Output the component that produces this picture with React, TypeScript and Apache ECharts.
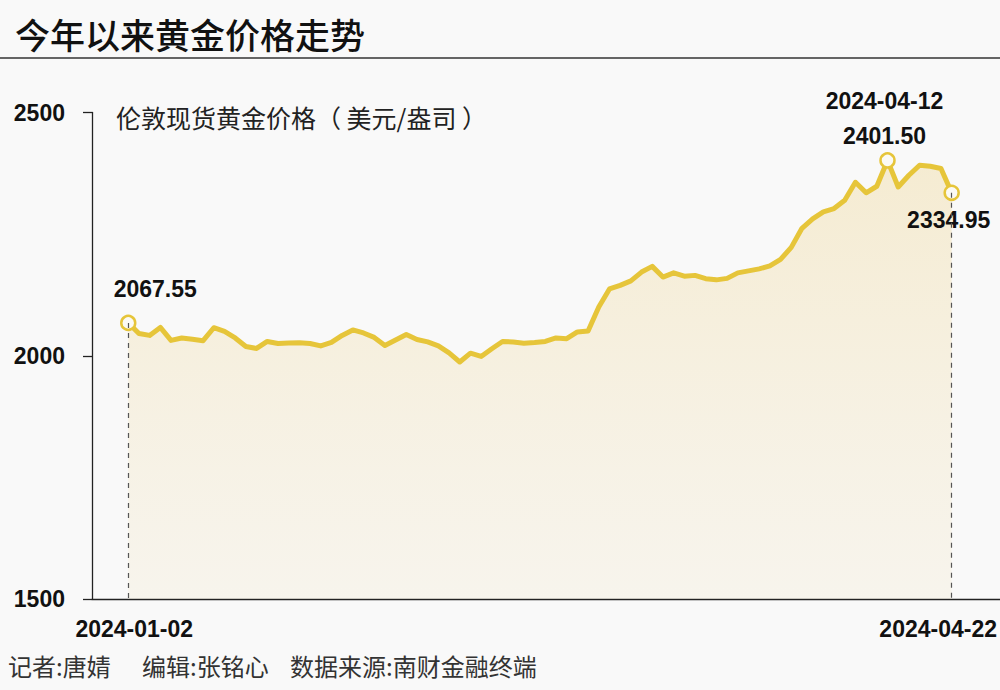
import React, { useEffect, useRef } from "react";
import * as echarts from "echarts";

// ---- data ----
const dates: string[] = [
  "2024-01-02", "2024-01-03", "2024-01-04", "2024-01-05",
  "2024-01-08", "2024-01-09", "2024-01-10", "2024-01-11", "2024-01-12",
  "2024-01-15", "2024-01-16", "2024-01-17", "2024-01-18", "2024-01-19",
  "2024-01-22", "2024-01-23", "2024-01-24", "2024-01-25", "2024-01-26",
  "2024-01-29", "2024-01-30", "2024-01-31",
  "2024-02-01", "2024-02-02",
  "2024-02-05", "2024-02-06", "2024-02-07", "2024-02-08", "2024-02-09",
  "2024-02-12", "2024-02-13", "2024-02-14", "2024-02-15", "2024-02-16",
  "2024-02-19", "2024-02-20", "2024-02-21", "2024-02-22", "2024-02-23",
  "2024-02-26", "2024-02-27", "2024-02-28", "2024-02-29",
  "2024-03-01",
  "2024-03-04", "2024-03-05", "2024-03-06", "2024-03-07", "2024-03-08",
  "2024-03-11", "2024-03-12", "2024-03-13", "2024-03-14", "2024-03-15",
  "2024-03-18", "2024-03-19", "2024-03-20", "2024-03-21", "2024-03-22",
  "2024-03-25", "2024-03-26", "2024-03-27", "2024-03-28",
  "2024-04-02", "2024-04-03", "2024-04-04", "2024-04-05",
  "2024-04-08", "2024-04-09", "2024-04-10", "2024-04-11", "2024-04-12",
  "2024-04-15", "2024-04-16", "2024-04-17", "2024-04-18", "2024-04-19",
  "2024-04-22",
];

const prices: number[] = [
  2067.55, 2045.9, 2041.8, 2058.2,
  2031.5, 2036.6, 2034.0, 2031.0, 2057.6,
  2050.0, 2036.6, 2019.1, 2015.0, 2029.4,
  2025.3, 2026.3, 2026.7, 2025.3, 2020.2,
  2027.4, 2041.8, 2053.1,
  2046.9, 2037.7,
  2021.2, 2032.5, 2043.8, 2033.5, 2028.4,
  2020.2, 2005.8, 1987.2, 2005.3, 1998.6,
  2014.4, 2029.4, 2028.4, 2025.9, 2027.4,
  2029.4, 2036.6, 2035.0, 2049.0,
  2051.0,
  2100.4, 2137.4, 2144.7, 2153.9, 2172.0,
  2183.7, 2161.7, 2170.4, 2163.6, 2165.2,
  2158.4, 2156.0, 2159.0, 2170.4, 2174.5,
  2178.6, 2184.8, 2198.1, 2222.8,
  2261.9, 2281.5, 2295.9, 2302.5,
  2319.5, 2356.6, 2335.0, 2348.4, 2401.5,
  2346.9, 2371.0, 2391.6, 2389.5, 2384.8,
  2334.95,
];

const highlightIdx: number[] = [0, 71, 77];
const xLabelIdx: number[] = [0, 77];
const yTicks: number[] = [1500, 2000, 2500];

const titleText = "今年以来黄金价格走势";
const subtitleText = "伦敦现货黄金价格（ 美元/盎司 ）";
const footerParts: string[] = ["记者:唐婧", "编辑:张铭心", "数据来源:南财金融终端"];

const NUM_FONT = "'Liberation Sans', Arial, sans-serif";
const CJK_FONT = "'Noto Sans CJK SC', 'Noto Sans', sans-serif";
const GOLD = "#E6C53A";

export default function App() {
  const ref = useRef<HTMLDivElement>(null);

  useEffect(() => {
    if (!ref.current) return;
    const chart = echarts.init(ref.current, null, { renderer: "svg" });

    const labelOffsets: Record<number, { offset: number[]; text: string }> = {
      0: { offset: [27, -34], text: prices[0].toFixed(2) },
      71: { offset: [-3, -42], text: `${dates[71]}\n${prices[71].toFixed(2)}` },
      77: { offset: [-3, 27], text: prices[77].toFixed(2) },
    };

    const option: any = {
      animation: false,
      backgroundColor: "#f9f9f9",
      grid: { left: 92, right: 0, top: 112.5, bottom: 91, containLabel: false },
      xAxis: {
        type: "value",
        min: -3.39,
        max: 81.52,
        axisLine: { show: true, onZero: false, lineStyle: { color: "#222", width: 1.3 } },
        axisTick: { show: false },
        splitLine: { show: false },
        axisLabel: {
          customValues: xLabelIdx,
          margin: 18,
          formatter: (v: number) => {
            const i = Math.round(v);
            return i === 0 ? `{l|${dates[i]}}` : `{r|${dates[i]}}`;
          },
          rich: {
            l: { fontFamily: NUM_FONT, fontSize: 23, fontWeight: "bold", color: "#111", padding: [0, 0, 0, 12] },
            r: { fontFamily: NUM_FONT, fontSize: 23, fontWeight: "bold", color: "#111", padding: [0, 27, 0, 0] },
          },
        },
      },
      yAxis: {
        type: "value",
        min: yTicks[0],
        max: yTicks[yTicks.length - 1],
        interval: yTicks[1] - yTicks[0],
        axisLine: { show: true, onZero: false, lineStyle: { color: "#222", width: 1.3 } },
        axisTick: { show: true, length: 9, lineStyle: { color: "#222", width: 1.3 } },
        splitLine: { show: false },
        axisLabel: {
          margin: 27,
          fontFamily: NUM_FONT,
          fontSize: 23,
          fontWeight: "bold",
          color: "#111",
          formatter: (v: number) => String(v),
        },
      },
      series: [
        {
          type: "line",
          data: prices.map((v, i) => [i, v]),
          symbol: "none",
          z: 2,
          lineStyle: { color: GOLD, width: 5, join: "round", cap: "round" },
          areaStyle: {
            color: new echarts.graphic.LinearGradient(0, 0, 0, 1, [
              { offset: 0, color: "rgba(236, 203, 115, 0.42)" },
              { offset: 1, color: "rgba(236, 215, 160, 0.2)" },
            ]),
          },
          markLine: {
            silent: true,
            symbol: ["none", "none"],
            label: { show: false },
            lineStyle: { type: [5, 5], color: "#555", width: 1.2 },
            data: xLabelIdx.map((i) => [
              { coord: [i, prices[i]] },
              { coord: [i, yTicks[0]] },
            ]),
          },
        },
        {
          type: "scatter",
          z: 3,
          symbol: "circle",
          symbolSize: 14,
          itemStyle: { color: "#fbfaf4", borderColor: GOLD, borderWidth: 2.5, opacity: 1 },
          data: highlightIdx.map((i) => ({
            value: [i, prices[i]],
            label: {
              show: true,
              position: "inside",
              offset: labelOffsets[i].offset,
              formatter: labelOffsets[i].text,
              fontFamily: NUM_FONT,
              fontSize: 23,
              fontWeight: "bold",
              color: "#111",
              lineHeight: 35,
              align: "center",
              verticalAlign: "middle",
            },
          })),
        },
      ],
      graphic: [
        {
          type: "text",
          x: 15,
          y: 33,
          style: {
            text: titleText,
            fontFamily: CJK_FONT,
            fontSize: 35,
            fontWeight: 500,
            fill: "#111",
            align: "left",
            verticalAlign: "middle",
          },
        },
        {
          type: "line",
          shape: { x1: 0, y1: 58, x2: 1000, y2: 58 },
          style: { stroke: "#333", lineWidth: 1.5 },
        },
        {
          type: "text",
          x: 116,
          y: 117,
          style: {
            text: subtitleText,
            fontFamily: CJK_FONT,
            fontSize: 25,
            fill: "#222",
            align: "left",
            verticalAlign: "middle",
          },
        },
        ...footerParts.map((t, k) => ({
          type: "text",
          x: [8, 142, 290][k],
          y: 665,
          style: {
            text: t,
            fontFamily: CJK_FONT,
            fontSize: 24,
            fill: "#333",
            align: "left",
            verticalAlign: "middle",
          },
        })),
      ],
    };

    chart.setOption(option);
    return () => chart.dispose();
  }, []);

  return (
    <div
      ref={ref}
      style={{ position: "absolute", left: 0, top: 0, width: 1000, height: 690, background: "#f9f9f9" }}
    />
  );
}
